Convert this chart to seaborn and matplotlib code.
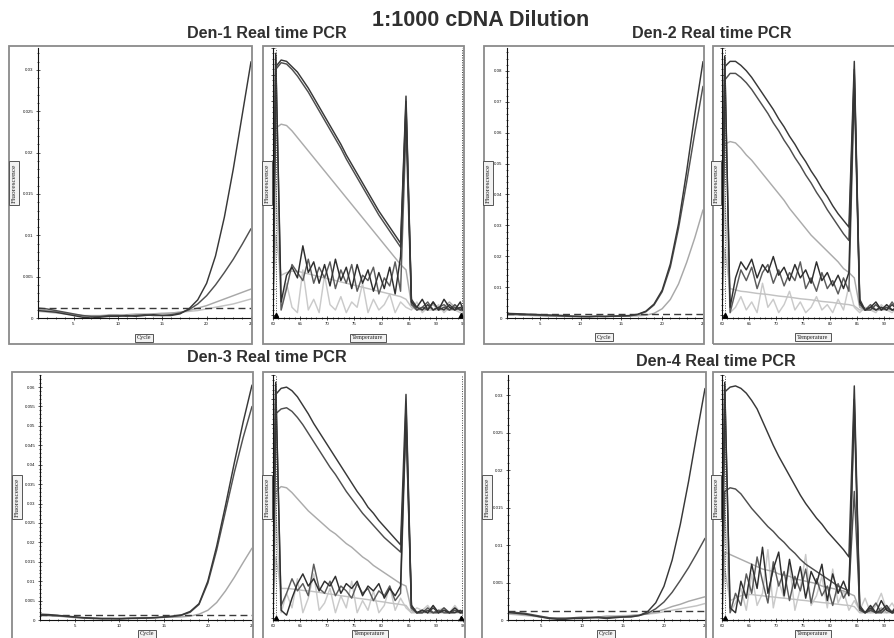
import numpy as np
import pandas as pd
import matplotlib
matplotlib.use("Agg")
import matplotlib.pyplot as plt
import seaborn as sns
from matplotlib.patches import Rectangle
from matplotlib.ticker import FixedLocator, MultipleLocator, NullFormatter

# ---------------- data ----------------
main_title = "1:1000 cDNA Dilution"
panel_titles = ["Den-1 Real time PCR", "Den-2 Real time PCR",
                "Den-3 Real time PCR", "Den-4 Real time PCR"]

cycles = list(range(1, 26))
amp_xticks = [5, 10, 15, 20, 25]

temps = [60, 60.5, 61.5, 62.5, 63.5, 64.5, 65.5, 66.5, 67.5, 68.5, 69.5, 70.5,
         71.5, 72.5, 73.5, 74.5, 75.5, 76.5, 77.5, 78.5, 79.5, 80.5, 81.5, 82.5,
         83.5, 84.5, 85.5, 86.5, 87.5, 88.5, 89.5, 90.5, 91.5, 92.5, 93.5, 94.5, 95]
melt_xticks = [60, 65, 70, 75, 80, 85, 90, 95]
melt_xticks_cut = [60, 65, 70, 75, 80, 85, 90]   # right-hand panels run off the page

# amplification curves (fluorescence per cycle)
a1_A = [0.0009, 0.0008, 0.0007, 0.0005, 0.0003, 0.0001, 0.0000, 0.0001, 0.0002, 0.0002, 0.0003, 0.0002, 0.0003, 0.0004, 0.0003, 0.0003, 0.0005, 0.0011, 0.0022, 0.0042, 0.0075, 0.0122, 0.0180, 0.0245, 0.0310]
a1_B = [0.0012, 0.0011, 0.0009, 0.0007, 0.0005, 0.0003, 0.0002, 0.0002, 0.0003, 0.0003, 0.0002, 0.0003, 0.0004, 0.0003, 0.0003, 0.0004, 0.0006, 0.0010, 0.0017, 0.0027, 0.0040, 0.0055, 0.0071, 0.0089, 0.0108]
a1_C = [0.0010, 0.0009, 0.0008, 0.0006, 0.0004, 0.0003, 0.0002, 0.0002, 0.0003, 0.0003, 0.0004, 0.0004, 0.0004, 0.0005, 0.0005, 0.0006, 0.0007, 0.0009, 0.0012, 0.0015, 0.0019, 0.0023, 0.0027, 0.0031, 0.0035]
a1_D = [0.0008, 0.0007, 0.0006, 0.0005, 0.0004, 0.0003, 0.0003, 0.0003, 0.0004, 0.0004, 0.0004, 0.0005, 0.0005, 0.0005, 0.0006, 0.0006, 0.0007, 0.0008, 0.0009, 0.0011, 0.0013, 0.0015, 0.0017, 0.0020, 0.0023]
thr1 = 0.0012
yt1 = [0, 0.005, 0.01, 0.015, 0.02, 0.025, 0.03]

a2_A = [0.0015, 0.0014, 0.0013, 0.0012, 0.0011, 0.0010, 0.0009, 0.0008, 0.0006, 0.0005, 0.0005, 0.0006, 0.0005, 0.0006, 0.0007, 0.0008, 0.0012, 0.0022, 0.0045, 0.0090, 0.0175, 0.0305, 0.0475, 0.0660, 0.0830]
a2_B = [0.0012, 0.0012, 0.0011, 0.0010, 0.0009, 0.0008, 0.0007, 0.0006, 0.0005, 0.0005, 0.0004, 0.0005, 0.0005, 0.0006, 0.0006, 0.0007, 0.0011, 0.0020, 0.0042, 0.0085, 0.0165, 0.0290, 0.0440, 0.0600, 0.0750]
a2_C = [0.0010, 0.0010, 0.0009, 0.0008, 0.0007, 0.0006, 0.0006, 0.0005, 0.0005, 0.0004, 0.0004, 0.0005, 0.0005, 0.0005, 0.0006, 0.0006, 0.0007, 0.0009, 0.0015, 0.0030, 0.0060, 0.0110, 0.0180, 0.0260, 0.0350]
thr2 = 0.0013
yt2 = [0, 0.01, 0.02, 0.03, 0.04, 0.05, 0.06, 0.07, 0.08]

a3_A = [0.0015, 0.0014, 0.0012, 0.0010, 0.0008, 0.0006, 0.0005, 0.0004, 0.0004, 0.0003, 0.0004, 0.0005, 0.0005, 0.0006, 0.0008, 0.0010, 0.0013, 0.0022, 0.0042, 0.0100, 0.0190, 0.0295, 0.0405, 0.0510, 0.0605]
a3_B = [0.0013, 0.0012, 0.0011, 0.0009, 0.0007, 0.0005, 0.0004, 0.0003, 0.0003, 0.0003, 0.0004, 0.0004, 0.0005, 0.0006, 0.0007, 0.0009, 0.0012, 0.0020, 0.0040, 0.0095, 0.0180, 0.0280, 0.0380, 0.0470, 0.0550]
a3_C = [0.0012, 0.0011, 0.0010, 0.0008, 0.0006, 0.0005, 0.0004, 0.0004, 0.0004, 0.0005, 0.0005, 0.0005, 0.0006, 0.0006, 0.0007, 0.0007, 0.0008, 0.0010, 0.0015, 0.0025, 0.0045, 0.0075, 0.0110, 0.0148, 0.0185]
thr3 = 0.0012
yt3 = [0, 0.005, 0.01, 0.015, 0.02, 0.025, 0.03, 0.035, 0.04, 0.045, 0.05, 0.055, 0.06]

a4_A = [0.0010, 0.0009, 0.0008, 0.0006, 0.0004, 0.0002, 0.0001, 0.0001, 0.0002, 0.0002, 0.0003, 0.0003, 0.0002, 0.0003, 0.0004, 0.0004, 0.0006, 0.0011, 0.0023, 0.0045, 0.0080, 0.0128, 0.0185, 0.0248, 0.0309]
a4_B = [0.0011, 0.0010, 0.0009, 0.0007, 0.0005, 0.0003, 0.0002, 0.0002, 0.0003, 0.0003, 0.0003, 0.0004, 0.0003, 0.0004, 0.0004, 0.0005, 0.0006, 0.0009, 0.0015, 0.0024, 0.0037, 0.0053, 0.0070, 0.0089, 0.0109]
a4_C = [0.0009, 0.0008, 0.0007, 0.0006, 0.0004, 0.0003, 0.0003, 0.0003, 0.0003, 0.0004, 0.0004, 0.0004, 0.0005, 0.0005, 0.0005, 0.0006, 0.0007, 0.0008, 0.0011, 0.0014, 0.0018, 0.0021, 0.0025, 0.0028, 0.0031]
a4_D = [0.0008, 0.0007, 0.0006, 0.0005, 0.0004, 0.0003, 0.0003, 0.0003, 0.0003, 0.0004, 0.0004, 0.0004, 0.0005, 0.0005, 0.0006, 0.0006, 0.0007, 0.0008, 0.0009, 0.0011, 0.0013, 0.0015, 0.0017, 0.0019, 0.0022]
thr4 = 0.0012
yt4 = [0, 0.005, 0.01, 0.015, 0.02, 0.025, 0.03]

# melt curves (-dF/dT, relative) per temperature
d1_A = [0.02, 0.93, 0.955, 0.95, 0.93, 0.91, 0.88, 0.85, 0.815, 0.78, 0.745, 0.71, 0.675, 0.64, 0.60, 0.565, 0.53, 0.495, 0.46, 0.425, 0.39, 0.36, 0.33, 0.30, 0.27, 0.82, 0.06, 0.03, 0.02, 0.04, 0.02, 0.03, 0.02, 0.04, 0.02, 0.03, 0.02]
d1_B = [0.02, 0.92, 0.945, 0.94, 0.92, 0.895, 0.865, 0.835, 0.80, 0.765, 0.73, 0.695, 0.66, 0.625, 0.585, 0.55, 0.515, 0.48, 0.445, 0.41, 0.375, 0.345, 0.315, 0.285, 0.255, 0.80, 0.05, 0.02, 0.03, 0.02, 0.05, 0.02, 0.03, 0.02, 0.04, 0.02, 0.02]
d1_C = [0.02, 0.70, 0.715, 0.71, 0.69, 0.665, 0.64, 0.615, 0.59, 0.565, 0.54, 0.515, 0.49, 0.465, 0.44, 0.415, 0.39, 0.365, 0.34, 0.315, 0.29, 0.265, 0.24, 0.215, 0.19, 0.17, 0.04, 0.03, 0.02, 0.03, 0.04, 0.02, 0.03, 0.05, 0.03, 0.02, 0.03]
d1_D = [0.02, 0.98, 0.05, 0.15, 0.18, 0.14, 0.26, 0.16, 0.20, 0.12, 0.19, 0.11, 0.21, 0.13, 0.18, 0.10, 0.19, 0.12, 0.17, 0.09, 0.16, 0.10, 0.18, 0.08, 0.22, 0.78, 0.05, 0.03, 0.06, 0.02, 0.05, 0.02, 0.06, 0.03, 0.02, 0.05, 0.02]
d1_E = [0.02, 0.97, 0.02, 0.10, 0.19, 0.16, 0.13, 0.21, 0.12, 0.18, 0.14, 0.20, 0.10, 0.17, 0.12, 0.19, 0.09, 0.15, 0.13, 0.18, 0.08, 0.14, 0.11, 0.20, 0.09, 0.70, 0.04, 0.02, 0.03, 0.05, 0.02, 0.03, 0.04, 0.02, 0.03, 0.02, 0.03]
d1_F = [0.02, 0.30, 0.15, 0.16, 0.165, 0.165, 0.16, 0.155, 0.15, 0.145, 0.14, 0.135, 0.13, 0.125, 0.12, 0.115, 0.11, 0.105, 0.10, 0.095, 0.09, 0.085, 0.08, 0.075, 0.07, 0.06, 0.03, 0.02, 0.02, 0.02, 0.02, 0.02, 0.02, 0.02, 0.02, 0.02, 0.02]
d1_G = [0.02, 0.50, 0.02, 0.12, 0.03, 0.01, 0.17, 0.02, 0.06, 0.01, 0.15, 0.04, 0.02, 0.07, 0.01, 0.05, 0.03, 0.12, 0.01, 0.06, 0.02, 0.04, 0.08, 0.01, 0.05, 0.03, 0.02, 0.05, 0.01, 0.03, 0.02, 0.04, 0.01, 0.03, 0.02, 0.01, 0.02]

d2_A = [0.02, 0.93, 0.95, 0.95, 0.935, 0.915, 0.89, 0.86, 0.83, 0.80, 0.77, 0.735, 0.705, 0.67, 0.64, 0.605, 0.575, 0.54, 0.51, 0.475, 0.445, 0.41, 0.38, 0.355, 0.33, 0.95, 0.06, 0.02, 0.03, 0.02, 0.03, 0.02, 0.04, 0.02, 0.03, 0.05, 0.02]
d2_B = [0.02, 0.88, 0.905, 0.905, 0.89, 0.87, 0.845, 0.815, 0.785, 0.755, 0.72, 0.69, 0.655, 0.625, 0.59, 0.56, 0.525, 0.495, 0.46, 0.43, 0.395, 0.365, 0.335, 0.305, 0.28, 0.92, 0.05, 0.02, 0.02, 0.04, 0.02, 0.03, 0.02, 0.02, 0.04, 0.02, 0.03]
d2_C = [0.02, 0.64, 0.65, 0.645, 0.625, 0.60, 0.58, 0.555, 0.53, 0.505, 0.48, 0.455, 0.43, 0.40, 0.375, 0.35, 0.325, 0.30, 0.28, 0.26, 0.24, 0.22, 0.20, 0.175, 0.16, 0.14, 0.03, 0.02, 0.03, 0.02, 0.02, 0.03, 0.02, 0.03, 0.02, 0.02, 0.02]
d2_D = [0.02, 0.97, 0.03, 0.14, 0.20, 0.17, 0.21, 0.14, 0.19, 0.16, 0.22, 0.15, 0.18, 0.13, 0.19, 0.14, 0.17, 0.12, 0.20, 0.13, 0.16, 0.11, 0.15, 0.10, 0.16, 0.90, 0.05, 0.02, 0.03, 0.05, 0.02, 0.04, 0.02, 0.03, 0.06, 0.02, 0.03]
d2_E = [0.02, 0.96, 0.01, 0.09, 0.17, 0.13, 0.18, 0.10, 0.16, 0.19, 0.12, 0.17, 0.11, 0.16, 0.13, 0.20, 0.10, 0.14, 0.09, 0.16, 0.10, 0.13, 0.08, 0.14, 0.09, 0.85, 0.04, 0.02, 0.04, 0.02, 0.03, 0.02, 0.05, 0.02, 0.02, 0.03, 0.02]
d2_F = [0.02, 0.25, 0.10, 0.095, 0.09, 0.088, 0.085, 0.082, 0.08, 0.078, 0.075, 0.072, 0.07, 0.068, 0.065, 0.062, 0.06, 0.058, 0.055, 0.052, 0.05, 0.048, 0.045, 0.042, 0.04, 0.035, 0.02, 0.02, 0.02, 0.02, 0.02, 0.02, 0.02, 0.02, 0.02, 0.02, 0.02]
d2_G = [0.02, 0.45, 0.01, 0.03, 0.07, 0.02, 0.05, 0.01, 0.12, 0.03, 0.06, 0.01, 0.04, 0.09, 0.02, 0.05, 0.01, 0.03, 0.07, 0.02, 0.04, 0.01, 0.06, 0.02, 0.11, 0.03, 0.01, 0.03, 0.02, 0.01, 0.04, 0.02, 0.01, 0.03, 0.02, 0.01, 0.02]

d3_A = [0.02, 0.92, 0.945, 0.95, 0.935, 0.91, 0.875, 0.84, 0.80, 0.765, 0.73, 0.695, 0.66, 0.625, 0.59, 0.555, 0.52, 0.49, 0.455, 0.43, 0.40, 0.375, 0.35, 0.325, 0.30, 0.92, 0.05, 0.02, 0.03, 0.02, 0.04, 0.02, 0.03, 0.02, 0.02, 0.03, 0.02]
d3_B = [0.02, 0.84, 0.86, 0.865, 0.85, 0.825, 0.795, 0.76, 0.725, 0.69, 0.655, 0.62, 0.59, 0.555, 0.52, 0.49, 0.46, 0.43, 0.405, 0.38, 0.355, 0.33, 0.31, 0.29, 0.27, 0.80, 0.04, 0.02, 0.02, 0.03, 0.02, 0.02, 0.04, 0.02, 0.03, 0.02, 0.02]
d3_C = [0.02, 0.52, 0.54, 0.535, 0.515, 0.49, 0.465, 0.44, 0.42, 0.40, 0.38, 0.36, 0.345, 0.325, 0.305, 0.29, 0.27, 0.25, 0.235, 0.215, 0.20, 0.185, 0.17, 0.155, 0.14, 0.13, 0.03, 0.02, 0.03, 0.02, 0.02, 0.03, 0.02, 0.02, 0.03, 0.02, 0.02]
d3_D = [0.02, 0.97, 0.03, 0.01, 0.08, 0.14, 0.18, 0.13, 0.16, 0.11, 0.15, 0.13, 0.17, 0.10, 0.14, 0.12, 0.15, 0.09, 0.13, 0.11, 0.14, 0.08, 0.12, 0.09, 0.13, 0.88, 0.05, 0.02, 0.03, 0.02, 0.05, 0.02, 0.03, 0.02, 0.04, 0.02, 0.03]
d3_E = [0.02, 0.96, 0.05, 0.10, 0.16, 0.11, 0.14, 0.09, 0.22, 0.12, 0.10, 0.15, 0.09, 0.13, 0.11, 0.08, 0.14, 0.10, 0.12, 0.07, 0.11, 0.09, 0.13, 0.07, 0.10, 0.82, 0.04, 0.02, 0.02, 0.04, 0.02, 0.03, 0.02, 0.02, 0.03, 0.02, 0.02]
d3_F = [0.02, 0.25, 0.12, 0.12, 0.118, 0.115, 0.112, 0.11, 0.107, 0.104, 0.10, 0.097, 0.094, 0.09, 0.087, 0.084, 0.08, 0.077, 0.074, 0.07, 0.067, 0.064, 0.06, 0.057, 0.054, 0.05, 0.02, 0.02, 0.02, 0.02, 0.02, 0.02, 0.02, 0.02, 0.02, 0.02, 0.02]
d3_G = [0.02, 0.45, 0.02, 0.10, 0.04, 0.16, 0.02, 0.08, 0.18, 0.03, 0.06, 0.12, 0.02, 0.09, 0.04, 0.15, 0.02, 0.07, 0.03, 0.11, 0.02, 0.05, 0.13, 0.03, 0.08, 0.04, 0.02, 0.04, 0.03, 0.05, 0.02, 0.03, 0.04, 0.02, 0.05, 0.02, 0.03]

d4_A = [0.02, 0.93, 0.95, 0.955, 0.945, 0.925, 0.895, 0.86, 0.81, 0.76, 0.71, 0.665, 0.625, 0.585, 0.545, 0.505, 0.47, 0.44, 0.41, 0.385, 0.355, 0.33, 0.305, 0.28, 0.25, 0.955, 0.05, 0.02, 0.04, 0.02, 0.03, 0.05, 0.02, 0.03, 0.02, 0.04, 0.02]
d4_B = [0.02, 0.52, 0.535, 0.53, 0.51, 0.48, 0.45, 0.425, 0.40, 0.375, 0.355, 0.33, 0.31, 0.285, 0.265, 0.24, 0.22, 0.205, 0.19, 0.175, 0.16, 0.145, 0.13, 0.12, 0.11, 0.52, 0.04, 0.02, 0.03, 0.02, 0.02, 0.04, 0.02, 0.02, 0.03, 0.02, 0.02]
d4_C = [0.02, 0.27, 0.26, 0.25, 0.24, 0.23, 0.22, 0.21, 0.20, 0.195, 0.19, 0.18, 0.175, 0.17, 0.16, 0.155, 0.15, 0.145, 0.14, 0.13, 0.125, 0.12, 0.115, 0.11, 0.10, 0.09, 0.03, 0.02, 0.03, 0.02, 0.04, 0.02, 0.03, 0.02, 0.02, 0.03, 0.02]
d4_D = [0.02, 0.97, 0.04, 0.02, 0.15, 0.08, 0.22, 0.12, 0.29, 0.10, 0.20, 0.27, 0.09, 0.24, 0.12, 0.21, 0.08, 0.19, 0.14, 0.22, 0.07, 0.18, 0.10, 0.15, 0.09, 0.90, 0.04, 0.02, 0.05, 0.02, 0.07, 0.03, 0.02, 0.06, 0.02, 0.04, 0.03]
d4_E = [0.02, 0.96, 0.02, 0.10, 0.05, 0.18, 0.10, 0.25, 0.15, 0.06, 0.23, 0.13, 0.19, 0.07, 0.17, 0.11, 0.20, 0.06, 0.16, 0.09, 0.13, 0.05, 0.14, 0.08, 0.12, 0.85, 0.03, 0.02, 0.03, 0.06, 0.02, 0.04, 0.02, 0.03, 0.05, 0.02, 0.02]
d4_F = [0.02, 0.20, 0.07, 0.08, 0.09, 0.095, 0.095, 0.092, 0.09, 0.087, 0.085, 0.082, 0.08, 0.077, 0.075, 0.072, 0.07, 0.067, 0.065, 0.062, 0.06, 0.057, 0.055, 0.052, 0.05, 0.045, 0.02, 0.02, 0.02, 0.02, 0.02, 0.02, 0.02, 0.02, 0.02, 0.02, 0.02]
d4_G = [0.02, 0.45, 0.02, 0.06, 0.12, 0.03, 0.18, 0.05, 0.10, 0.28, 0.04, 0.15, 0.08, 0.22, 0.03, 0.12, 0.26, 0.05, 0.09, 0.17, 0.04, 0.20, 0.06, 0.11, 0.03, 0.07, 0.03, 0.08, 0.02, 0.05, 0.10, 0.03, 0.06, 0.02, 0.09, 0.03, 0.05]

# ---------------- styling ----------------
sns.set_theme(style="white")
plt.rcParams["font.family"] = ["Liberation Sans", "DejaVu Sans"]

W, H = 894, 638
fig = plt.figure(figsize=(W / 100, H / 100), dpi=100)
fig.patch.set_facecolor("white")

amp_colors = {"A": "#383838", "B": "#505050", "C": "#a8a8a8", "D": "#c2c2c2"}
melt_colors = {"A": "#383838", "B": "#4e4e4e", "C": "#ababab", "D": "#2e2e2e",
               "E": "#5c5c5c", "F": "#c2c2c2", "G": "#cacaca"}
TICK_FS = 3.2


def rect(x0, y0, x1, y1):
    return [x0 / W, 1 - y1 / H, (x1 - x0) / W, (y1 - y0) / H]


def frame(x0, y0, x1, y1):
    fig.patches.append(Rectangle((x0 / W, 1 - y1 / H), (x1 - x0) / W, (y1 - y0) / H,
                                 transform=fig.transFigure, fill=False,
                                 ec="#8a8a8a", lw=1.3, zorder=0))


def label_box(x, y, s, rot=0, fs=4.4):
    fig.text(x / W, 1 - y / H, s, fontsize=fs, family=["Liberation Serif", "DejaVu Serif"],
             rotation=rot, ha="center", va="center", color="#222222",
             bbox=dict(boxstyle="square,pad=0.3", fc="#f2f2f2", ec="#555555", lw=0.7))


def style_axes(ax):
    for sp in ["top", "right"]:
        ax.spines[sp].set_visible(False)
    for sp in ["left", "bottom"]:
        ax.spines[sp].set_color("#111111")
        ax.spines[sp].set_linewidth(0.8)
    ax.tick_params(which="both", direction="inout", labelsize=TICK_FS, colors="#111111",
                   pad=1.5, width=0.5, bottom=True, left=True)
    ax.tick_params(which="major", length=3.2)
    ax.tick_params(which="minor", length=1.8)
    ax.set_xlabel("")
    ax.set_ylabel("")
    ax.set_facecolor("white")


def plot_amp(ax, series, thr, ymax, yticks, ystep):
    frames = []
    for name, vals in series.items():
        frames.append(pd.DataFrame({"cycle": cycles, "value": vals, "curve": name}))
    df = pd.concat(frames, ignore_index=True)
    order = list(series.keys())[::-1]
    sns.lineplot(data=df, x="cycle", y="value", hue="curve", hue_order=order,
                 palette={k: amp_colors[k] for k in order}, legend=False, ax=ax,
                 estimator=None, sort=False, linewidth=1.05)
    ax.axhline(thr, color="#3a3a3a", ls=(0, (5, 3)), lw=1.0)
    ax.set_xlim(cycles[0], cycles[-1])
    ax.set_ylim(0, ymax)
    ax.xaxis.set_major_locator(FixedLocator(amp_xticks))
    ax.set_xticklabels([str(v) for v in amp_xticks])
    ax.xaxis.set_minor_locator(MultipleLocator(1))
    ax.yaxis.set_major_locator(FixedLocator(yticks))
    ax.set_yticklabels([f"{v:g}" for v in yticks])
    ax.yaxis.set_minor_locator(MultipleLocator(ystep / 5))
    style_axes(ax)


def plot_melt(ax, series, xticks):
    frames = []
    for name, vals in series.items():
        frames.append(pd.DataFrame({"temp": temps, "value": vals, "curve": name}))
    df = pd.concat(frames, ignore_index=True)
    order = ["G", "F", "C", "E", "B", "D", "A"]
    sns.lineplot(data=df, x="temp", y="value", hue="curve", hue_order=order,
                 palette=melt_colors, legend=False, ax=ax,
                 estimator=None, sort=False, linewidth=1.05)
    ax.axvline(temps[1], color="#444444", ls=(0, (1, 1.5)), lw=0.7)
    ax.axvline(temps[-1] - 0.2, color="#444444", ls=(0, (1, 1.5)), lw=0.7)
    ax.plot([temps[1], temps[-1] - 0.3], [0.0, 0.0], ls="none", marker="^",
            ms=3, color="black", clip_on=False, zorder=5)
    ax.set_xlim(temps[0], temps[-1])
    ax.set_ylim(-0.01, 1.0)
    ax.xaxis.set_major_locator(FixedLocator(xticks))
    ax.set_xticklabels([str(v) for v in xticks])
    ax.xaxis.set_minor_locator(MultipleLocator(1))
    ax.yaxis.set_major_locator(MultipleLocator(0.1))
    ax.yaxis.set_minor_locator(MultipleLocator(0.02))
    ax.yaxis.set_major_formatter(NullFormatter())
    style_axes(ax)


# frames (screen-capture style boxes)
for fr in [(9, 46, 252, 344), (263, 46, 464, 344), (484, 46, 704, 344), (713, 46, 916, 344),
           (12, 372, 253, 662), (263, 372, 465, 662), (482, 372, 706, 662), (713, 372, 916, 662)]:
    frame(*fr)

# ---- top row ----
ax1 = fig.add_axes(rect(38, 48, 251, 318))
plot_amp(ax1, {"A": a1_A, "B": a1_B, "C": a1_C, "D": a1_D}, thr1, 0.03266, yt1, 0.005)
m1 = fig.add_axes(rect(273, 48, 463, 318))
plot_melt(m1, {"A": d1_A, "B": d1_B, "C": d1_C, "D": d1_D, "E": d1_E, "F": d1_F, "G": d1_G},
          melt_xticks)

ax2 = fig.add_axes(rect(507, 48, 703, 318))
plot_amp(ax2, {"A": a2_A, "B": a2_B, "C": a2_C}, thr2, 0.0874, yt2, 0.01)
m2 = fig.add_axes(rect(722, 48, 911, 318))
plot_melt(m2, {"A": d2_A, "B": d2_B, "C": d2_C, "D": d2_D, "E": d2_E, "F": d2_F, "G": d2_G},
          melt_xticks_cut)

# ---- bottom row ----
ax3 = fig.add_axes(rect(40, 375, 252, 620))
plot_amp(ax3, {"A": a3_A, "B": a3_B, "C": a3_C}, thr3, 0.0631, yt3, 0.005)
m3 = fig.add_axes(rect(273, 375, 463, 620))
plot_melt(m3, {"A": d3_A, "B": d3_B, "C": d3_C, "D": d3_D, "E": d3_E, "F": d3_F, "G": d3_G},
          melt_xticks)

ax4 = fig.add_axes(rect(508, 375, 705, 620))
plot_amp(ax4, {"A": a4_A, "B": a4_B, "C": a4_C, "D": a4_D}, thr4, 0.0327, yt4, 0.005)
m4 = fig.add_axes(rect(722, 375, 911, 620))
plot_melt(m4, {"A": d4_A, "B": d4_B, "C": d4_C, "D": d4_D, "E": d4_E, "F": d4_F, "G": d4_G},
          melt_xticks_cut)

# axis label boxes
for (x, y) in [(14, 183), (267, 183), (488, 183), (716, 183),
               (17, 497), (267, 497), (487, 497), (716, 497)]:
    label_box(x, y, "Fluorescence", rot=90, fs=5.4)
for (x, y, s) in [(144, 338, "Cycle"), (368, 338, "Temperature"),
                  (604, 337, "Cycle"), (813, 337, "Temperature"),
                  (147, 634, "Cycle"), (370, 634, "Temperature"),
                  (606, 634, "Cycle"), (813, 634, "Temperature")]:
    label_box(x, y, s, fs=4.4)

# titles
fig.text(481 / W, 1 - 20 / H, main_title, ha="center", va="center",
         fontsize=15.5, fontweight="bold", color="#303030")
for (x, y), t in zip([(267, 33), (712, 33), (267, 358), (716, 362)], panel_titles):
    fig.text(x / W, 1 - y / H, t, ha="center", va="center",
             fontsize=11.6, fontweight="bold", color="#303030")

fig.savefig("out.png", dpi=100, facecolor="white")
